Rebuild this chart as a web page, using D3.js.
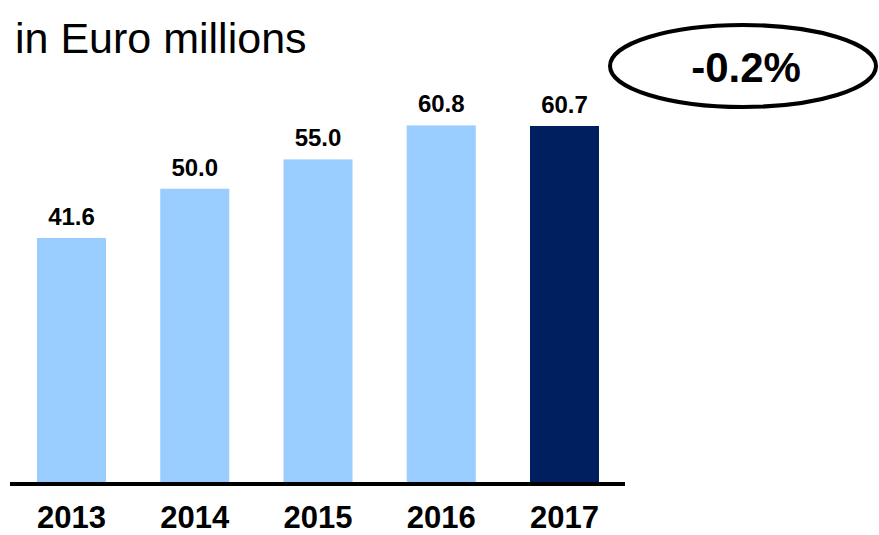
<!DOCTYPE html>
<html>
<head>
<meta charset="utf-8">
<script src="https://cdn.jsdelivr.net/npm/d3@7"></script>
<style>
  body { margin: 0; background: #fff; }
  svg text { font-family: "Liberation Sans", Arial, sans-serif; }
</style>
</head>
<body>
<div class="svg-container"></div>
<script>
const years = ["2013", "2014", "2015", "2016", "2017"];
const values = [41.6, 50.0, 55.0, 60.8, 60.7];
const barColors = ["#99ccff", "#99ccff", "#99ccff", "#99ccff", "#001f5f"];
const unitLabel = "in Euro millions";
const changeLabel = "-0.2%";

const width = 879, height = 535;
const baseY = 482;

const svg = d3.select(".svg-container").append("svg")
  .attr("width", width)
  .attr("height", height);

const xScale = d3.scaleBand().domain(years).range([37, 599]).paddingInner(0.44).paddingOuter(0);
const yScale = d3.scaleLinear().domain([0, 70]).range([baseY, baseY - 70 * 5.865]);

// bars
svg.selectAll("rect.bar")
  .data(values)
  .enter().append("rect")
  .attr("class", "bar")
  .attr("x", (d, i) => xScale(years[i]))
  .attr("y", d => yScale(d))
  .attr("width", xScale.bandwidth())
  .attr("height", d => yScale(0) - yScale(d))
  .attr("fill", (d, i) => barColors[i]);

// value labels
svg.selectAll("text.val")
  .data(values)
  .enter().append("text")
  .attr("class", "val")
  .attr("x", (d, i) => xScale(years[i]) + xScale.bandwidth() / 2)
  .attr("y", d => yScale(d) - 13)
  .attr("text-anchor", "middle")
  .style("font-size", "24px")
  .style("font-weight", "bold")
  .text(d => d.toFixed(1));

// baseline
svg.append("line")
  .attr("x1", 10).attr("x2", 625)
  .attr("y1", baseY + 2).attr("y2", baseY + 2)
  .style("stroke", "#000")
  .style("stroke-width", 4);

// x axis labels
const xAxis = d3.axisBottom(xScale).tickSize(0).tickPadding(0);
const gx = svg.append("g")
  .attr("transform", `translate(0, ${baseY})`)
  .call(xAxis);
gx.select(".domain").remove();
gx.selectAll("text")
  .attr("dy", null)
  .attr("y", 46)
  .attr("fill", "#000")
  .style("font-size", "31px")
  .style("font-weight", "bold")
  .style("font-family", "'Liberation Sans', Arial, sans-serif");

// unit label
svg.append("text")
  .attr("x", 15)
  .attr("y", 53)
  .style("font-size", "43px")
  .text(unitLabel);

// change ellipse
svg.append("ellipse")
  .attr("cx", 743).attr("cy", 66)
  .attr("rx", 133).attr("ry", 41)
  .style("fill", "none")
  .style("stroke", "#000")
  .style("stroke-width", 4);

svg.append("text")
  .attr("x", 746)
  .attr("y", 82)
  .attr("text-anchor", "middle")
  .style("font-size", "42px")
  .style("font-weight", "bold")
  .text(changeLabel);
</script>
</body>
</html>
